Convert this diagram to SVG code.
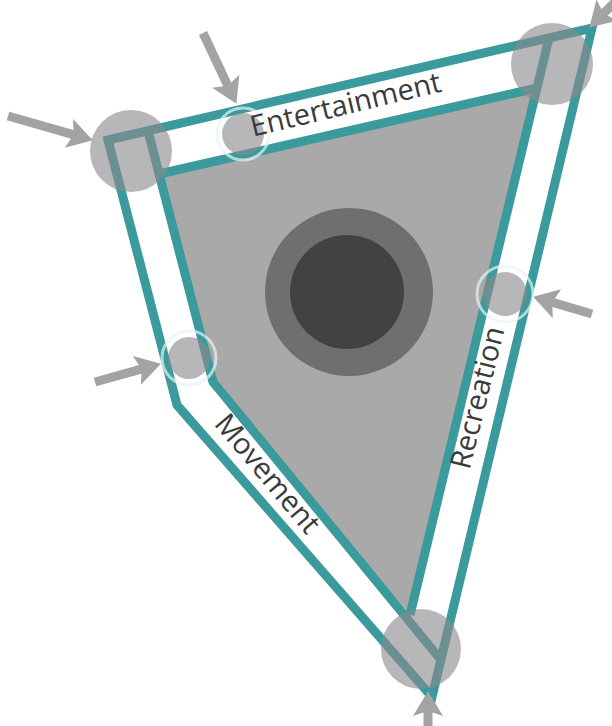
<svg xmlns="http://www.w3.org/2000/svg" width="612" height="726" viewBox="0 0 612 726">
<defs>
<style>
.teal{fill:none;stroke:#3b9a9b;stroke-width:9;stroke-linejoin:miter}
.big{fill:#8b898c;fill-opacity:0.62}
.small{fill:#8b898c;fill-opacity:0.62}
.ring{fill:none;stroke:#e6f3f3;stroke-opacity:0.7;stroke-width:3}
.arrow{stroke:#a3a3a3;stroke-width:9;fill:none}
.lbl{font-family:"Open Sans","Liberation Sans",sans-serif;font-size:29px;fill:#3a3a3a}
</style>
<marker id="ah" markerUnits="userSpaceOnUse" markerWidth="30" markerHeight="32" refX="10" refY="15" orient="auto">
<path d="M0,0 L25,15 L0,30 L5,15 Z" fill="#a3a3a3"/>
</marker>
</defs>
<rect width="612" height="726" fill="#ffffff"/>
<g id="plaza">
<polygon points="159,174 537,88 410,615 213,382" fill="#a9a9a9"/>
</g>
<g id="core">
<circle cx="349" cy="292" r="84" fill="#6f6f6f"/>
<circle cx="347" cy="292" r="57" fill="#424242"/>
</g>
<g id="connectors">
<path class="teal" d="M108,140 L592,28 L432,697 L177,405 Z"/>
<path class="teal" d="M148,131 L213,382 L441,660"/>
<path class="teal" d="M159,174 L537,88"/>
<path class="teal" d="M549,38 L410,615"/>
<line class="arrow" x1="8" y1="116" x2="78.5" y2="136.2" marker-end="url(#ah)"/>
<line class="arrow" x1="203" y1="33" x2="230" y2="90.3" marker-end="url(#ah)"/>
<line class="arrow" x1="95" y1="382" x2="146.5" y2="367.7" marker-end="url(#ah)"/>
<line class="arrow" x1="592" y1="314" x2="547.4" y2="300.9" marker-end="url(#ah)"/>
<line class="arrow" x1="625" y1="-8" x2="600" y2="17" marker-end="url(#ah)"/>
<line class="arrow" x1="428" y1="730" x2="428" y2="706" marker-end="url(#ah)"/>
</g>
<g id="node-topleft"><circle class="big" cx="131" cy="151" r="41"/></g>
<g id="node-topright"><circle class="big" cx="552" cy="64" r="41"/></g>
<g id="node-bottom"><circle class="big" cx="421" cy="649" r="40"/></g>
<g id="node-entertainment-gate"><circle class="ring" cx="243" cy="134" r="26"/><circle class="small" cx="243" cy="134" r="21"/></g>
<g id="node-movement-gate"><circle class="ring" cx="189" cy="358" r="27"/><circle class="small" cx="189" cy="358" r="21"/></g>
<g id="node-recreation-gate"><circle class="ring" cx="505" cy="294" r="28"/><circle class="small" cx="505" cy="294" r="22"/></g>
<g id="labels">
<text class="lbl" text-anchor="middle" transform="translate(348,114) rotate(-13.5)">Entertainment</text>
<text class="lbl" text-anchor="middle" transform="translate(487,400) rotate(-76)">Recreation</text>
<text class="lbl" text-anchor="middle" transform="translate(260,480) rotate(50)">Movement</text>
</g>
</svg>
